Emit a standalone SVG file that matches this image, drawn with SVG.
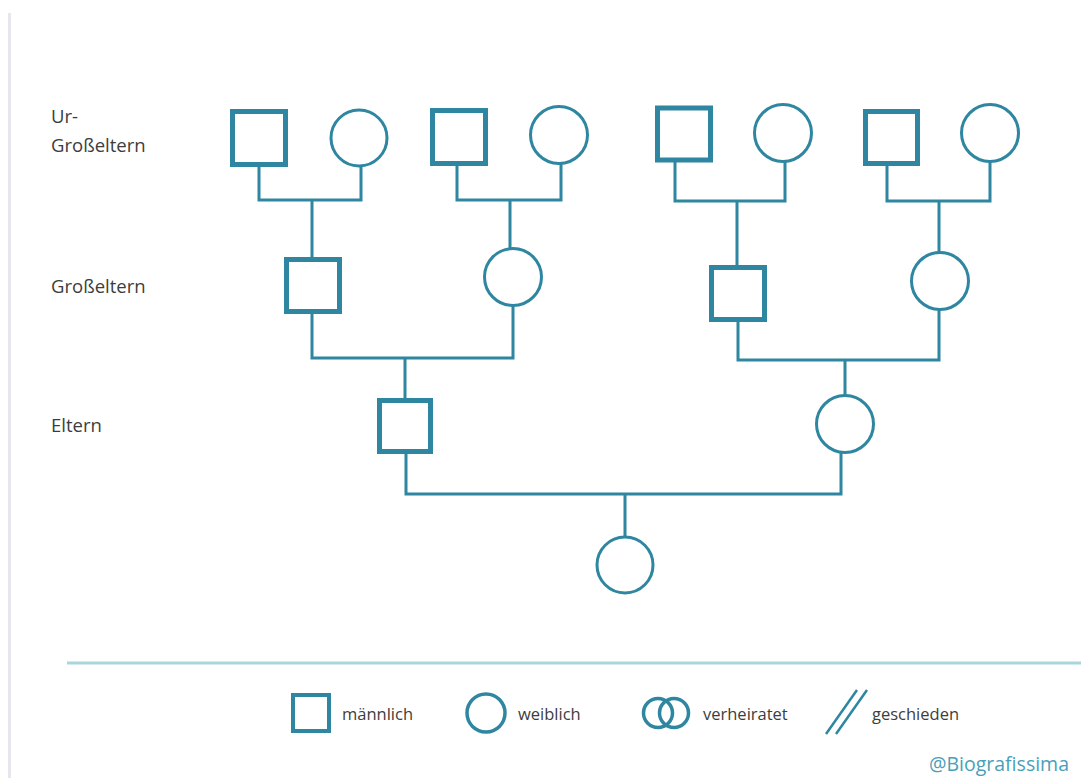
<svg xmlns="http://www.w3.org/2000/svg" width="1081" height="778" viewBox="0 0 1081 778">
<style>
.m{fill:#fff;stroke:#2e86a0;stroke-width:5}
.f{fill:#fff;stroke:#2e86a0;stroke-width:3}
.c{fill:none;stroke:#2e86a0;stroke-width:3;stroke-linecap:square;stroke-linejoin:miter}
.lbl{font-family:"Open Sans","Liberation Sans",sans-serif;font-size:18.5px;fill:#3d3d3d}
.lg{font-family:"Open Sans","Liberation Sans",sans-serif;font-size:16.5px;fill:#3d3d3d}
</style>
<rect width="1081" height="778" fill="#fff"/>
<line x1="9.5" y1="13" x2="9.5" y2="778" stroke="#e6e6ee" stroke-width="3"/>
<g id="labels">
<text class="lbl" x="51" y="123">Ur-</text>
<text class="lbl" x="51" y="152">Großeltern</text>
<text class="lbl" x="51" y="293">Großeltern</text>
<text class="lbl" x="51" y="432">Eltern</text>
</g>
<g id="connectors">
<path class="c" d="M259,167 V200 H361 V167 M312,200 V258"/>
<path class="c" d="M457,165 V200 H561 V164 M510,200 V248"/>
<path class="c" d="M675,162 V201 H785 V162 M737,201 V265"/>
<path class="c" d="M887,166 V201 H990 V162 M939,201 V252"/>
<path class="c" d="M312,314 V358 H513 V305 M405,358 V398"/>
<path class="c" d="M738,322 V360 H939 V310 M845,360 V395"/>
<path class="c" d="M406,454 V494 H841 V453 M625,494 V537"/>
</g>
<g id="ugp1"><rect class="m" x="232.5" y="111.5" width="53" height="53"/></g>
<g id="ugm1"><circle class="f" cx="359" cy="138" r="28"/></g>
<g id="ugp2"><rect class="m" x="432.5" y="110.5" width="53" height="53"/></g>
<g id="ugm2"><circle class="f" cx="559" cy="135" r="28.5"/></g>
<g id="ugp3"><rect class="m" x="657.5" y="108" width="53" height="52"/></g>
<g id="ugm3"><circle class="f" cx="783" cy="133" r="28.5"/></g>
<g id="ugp4"><rect class="m" x="865.5" y="111.5" width="52" height="52"/></g>
<g id="ugm4"><circle class="f" cx="990" cy="133" r="28.5"/></g>
<g id="gp1"><rect class="m" x="286.5" y="259.5" width="53" height="52"/></g>
<g id="gm1"><circle class="f" cx="513" cy="277" r="28.5"/></g>
<g id="gp2"><rect class="m" x="711.5" y="267.5" width="53" height="52"/></g>
<g id="gm2"><circle class="f" cx="940" cy="281" r="28.5"/></g>
<g id="father"><rect class="m" x="379.5" y="400.5" width="51" height="51"/></g>
<g id="mother"><circle class="f" cx="845" cy="424" r="28.5"/></g>
<g id="child"><circle class="f" cx="625" cy="565" r="28"/></g>
<g id="legend">
<line x1="67" y1="663" x2="1081" y2="663" stroke="#a9d5dc" stroke-width="3"/>
<rect x="293" y="695" width="36" height="36" fill="#fff" stroke="#2e86a0" stroke-width="4"/>
<text class="lg" x="342" y="720">männlich</text>
<circle cx="486" cy="713" r="19" fill="none" stroke="#2e86a0" stroke-width="3.5"/>
<text class="lg" x="518" y="720">weiblich</text>
<circle cx="658" cy="713" r="14.5" fill="none" stroke="#2e86a0" stroke-width="3.5"/>
<circle cx="674" cy="713" r="14.5" fill="none" stroke="#2e86a0" stroke-width="3.5"/>
<text class="lg" x="703" y="720">verheiratet</text>
<line x1="826" y1="734" x2="857" y2="690" stroke="#2e86a0" stroke-width="2.5"/>
<line x1="836" y1="734" x2="867" y2="690" stroke="#2e86a0" stroke-width="2.5"/>
<text class="lg" x="872" y="720">geschieden</text>
<text x="929" y="771" font-family="'Open Sans','Liberation Sans',sans-serif" font-size="19.5" fill="#4a9fb8">@Biografissima</text>
</g>
</svg>
